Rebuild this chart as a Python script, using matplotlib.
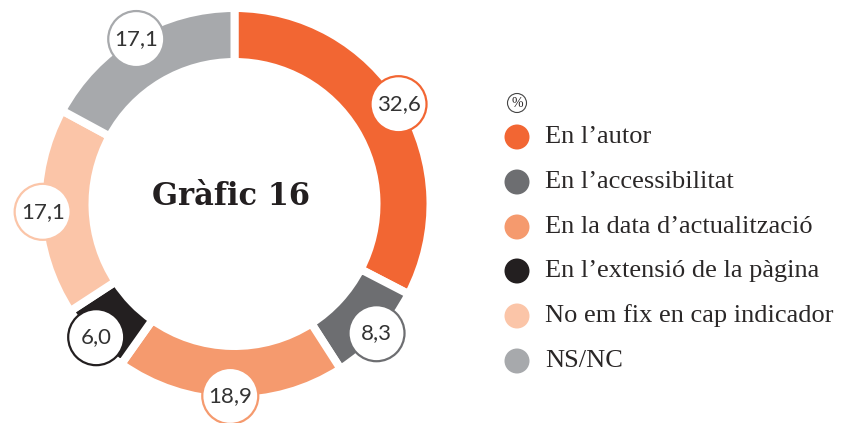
import matplotlib.pyplot as plt
import numpy as np
from matplotlib.patches import Circle

# data
labels = ["En l\u2019autor", "En l\u2019accessibilitat", "En la data d\u2019actualitzaci\u00f3",
          "En l\u2019extensi\u00f3 de la p\u00e0gina", "No em fix en cap indicador", "NS/NC"]
values = [32.6, 8.3, 18.9, 6.0, 17.1, 17.1]
value_labels = ["32,6", "8,3", "18,9", "6,0", "17,1", "17,1"]
colors = ["#F26633", "#6D6E71", "#F59A6E", "#231F20", "#FBC5A8", "#A7A9AC"]

W, H = 843, 423
fig = plt.figure(figsize=(W / 100, H / 100), dpi=100)
ax = fig.add_axes([0, 0, 1, 1])

cx, cy = 234.5, H - 204
gap = 8  # px
wedges, _ = ax.pie(values, colors=colors, radius=192 + gap / 2, center=(cx, cy),
                   startangle=90, counterclock=False,
                   wedgeprops=dict(width=46 + gap, edgecolor="white", linewidth=gap * 0.72))

for w, txt, c in zip(wedges, value_labels, colors):
    ang = np.deg2rad((w.theta1 + w.theta2) / 2)
    x = cx + 192 * np.cos(ang)
    y = cy + 192 * np.sin(ang)
    ax.add_patch(Circle((x, y), 28, facecolor="white", edgecolor=c, linewidth=1.6, zorder=5))
    ax.text(x, y, txt, ha="center", va="center", fontsize=16, family="Lato",
            color="#333333", zorder=6)

ax.text(cx - 4, cy + 8, "Gr\u00e0fic 16", ha="center", va="center", fontsize=22,
        family="DejaVu Serif", fontweight="bold", color="#231F20")

# legend
lx = 517
ax.add_patch(Circle((lx, H - 103), 9.5, facecolor="white", edgecolor="#444444", linewidth=0.8))
ax.text(lx, H - 103, "%", ha="center", va="center", fontsize=10, family="Liberation Serif",
        color="#231F20")
leg_y = [137, 182, 227, 271, 316, 361]
for yy, lab, c in zip(leg_y, labels, colors):
    ax.add_patch(Circle((lx, H - yy), 12.5, facecolor=c, edgecolor="none"))
    ax.text(545, H - yy, lab, ha="left", va="center", fontsize=19,
            family="Liberation Serif", color="#2a2727")

ax.set_xlim(0, W)
ax.set_ylim(0, H)
ax.set_aspect("equal")
ax.axis("off")
fig.savefig("out.png", dpi=100)
